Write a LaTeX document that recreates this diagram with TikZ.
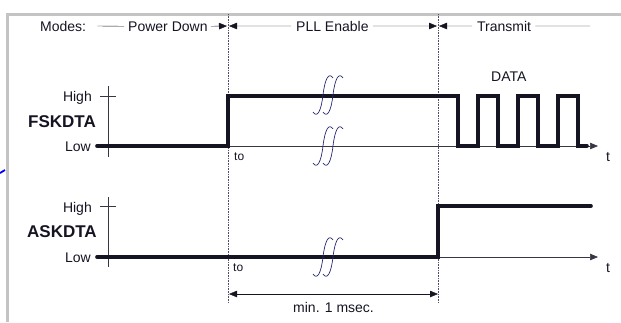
\documentclass[tikz,border=0pt]{standalone}
\usepackage{fontspec}
\setmainfont{Liberation Sans}
\usetikzlibrary{arrows.meta}
\definecolor{framegray}{RGB}{196,196,196}
\definecolor{ink}{RGB}{20,20,35}
\definecolor{breakblue}{RGB}{40,40,115}
\definecolor{dotgray}{RGB}{80,80,110}

\tikzset{
	signal/.style={line width=3.6pt, line cap=round, ink},
	axisline/.style={line width=0.6pt, ink!85},
	boundary/.style={densely dotted, line width=0.6pt, dotgray},
	lbl/.style={inner sep=0pt, text=ink},
	breakmark/.pic={
		\foreach \dx in {-5,5} {
			\draw[breakblue, line width=0.7pt, xshift=\dx] (-10,17) .. controls (-6,23) and (-2,17) .. (0,0)
			.. controls (2,-17) and (6,-23) .. (10,-17);
		}
	}
}

\begin{document}
\begin{tikzpicture}[x=1pt, y=-1pt, line join=miter, font=\fontsize{14}{16}\selectfont,
	>={Triangle[length=8pt, width=6.5pt]}]
	\useasboundingbox (0,0) rectangle (621,322);
	
	% ==========================================
	% Frame
	% ==========================================
	\draw[framegray, line width=3pt] (7,322) -- (7,14) -- (621,14);
	\draw[blue, line width=1.8pt] (0,173) -- (5,170);
	
	% Mode boundaries (dotted)
	\coordinate (b1top) at (228,14);  \coordinate (b1bot) at (228,303);
	\coordinate (b2top) at (438,14);  \coordinate (b2bot) at (438,303);
	\draw[boundary] (b1top) -- (b1bot);
	\draw[boundary] (b2top) -- (b2bot);
	
	% ==========================================
	% Mode row
	% ==========================================
	\node[lbl, anchor=base west] (modes) at (40,31) {Modes:};
	\node[lbl, anchor=base west] (pdown) at (128,31) {Power Down};
	\node[lbl, anchor=base west] (pllen) at (296,31) {PLL Enable};
	\node[lbl, anchor=base west] (xmit)  at (477,31) {Transmit};
	\coordinate (b1l) at (227,26); \coordinate (b1r) at (229,26);
	\coordinate (b2l) at (437,26); \coordinate (b2r) at (439,26);
	\coordinate (xend) at (590,26);
	
	\draw[ink, thin] ([xshift=11pt]modes.east) -- ([xshift=-4pt]pdown.west);
	\draw[ink, thin, ->] ([xshift=3pt]pdown.east) -- (b1l);
	\draw[ink, thin, ->] ([xshift=-5pt]pllen.west) -- (b1r);
	\draw[ink, thin, ->] ([xshift=4pt]pllen.east) -- (b2l);
	\draw[ink, thin, ->] ([xshift=-5pt]xmit.west) -- (b2r);
	\draw[ink, thin] ([xshift=4pt]xmit.east) -- (xend);
	
	% ==========================================
	% FSKDTA
	% ==========================================
	\node[lbl, anchor=base east] (fhigh) at (92,101) {High};
	\node[lbl, anchor=base east] (flow)  at (91,151) {Low};
	\node[lbl, anchor=base west, font=\fontsize{17}{19}\selectfont\bfseries] (fsk) at (28,127) {FSKDTA};
	\coordinate (fo) at (97,146);
	\coordinate (fend) at (598,146);
	\draw[axisline] (108,86) -- (108,157);
	\draw[axisline] (100,96) -- (116,96);
	\draw[axisline, ->] (fo) -- (fend);
	\node[lbl, anchor=base west] (ft) at (606,161) {t};
	\node[lbl, anchor=base west, font=\fontsize{12}{14}\selectfont] (fto) at (234,160) {to};
	\node[lbl, anchor=base west] (data) at (491,81) {DATA};
	
	\draw[signal] (fo) -- (228,146) -- (228,96) -- (458,96)
	\foreach \x in {458,498,538} { -- (\x,146) -- (\x+20,146) -- (\x+20,96) -- (\x+40,96) }
	-- (578,146) -- (587,146);
	
	\pic at (328,95) {breakmark};
	\pic at (328,146) {breakmark};
	
	% ==========================================
	% ASKDTA
	% ==========================================
	\node[lbl, anchor=base east] (ahigh) at (92,212) {High};
	\node[lbl, anchor=base east] (alow)  at (91,262) {Low};
	\node[lbl, anchor=base west, font=\fontsize{17}{19}\selectfont\bfseries] (ask) at (27,237) {ASKDTA};
	\coordinate (ao) at (97,257);
	\coordinate (aend) at (598,257);
	\draw[axisline] (108,197) -- (108,267);
	\draw[axisline] (100,206) -- (116,206);
	\draw[axisline, ->] (ao) -- (aend);
	\node[lbl, anchor=base west] (at) at (606,272) {t};
	\node[lbl, anchor=base west, font=\fontsize{12}{14}\selectfont] (ato) at (233,271) {to};
	
	\draw[signal] (ao) -- (438,257) -- (438,206) -- (591,206);
	\pic at (328,257) {breakmark};
	
	% min. 1 msec.
	\coordinate (d1) at (229,294); \coordinate (d2) at (438,294);
	\draw[ink, thin, <->] (d1) -- (d2);
	\node[lbl, anchor=base west] (mintime) at (293,312) {min. 1 msec.};
\end{tikzpicture}
\end{document}
